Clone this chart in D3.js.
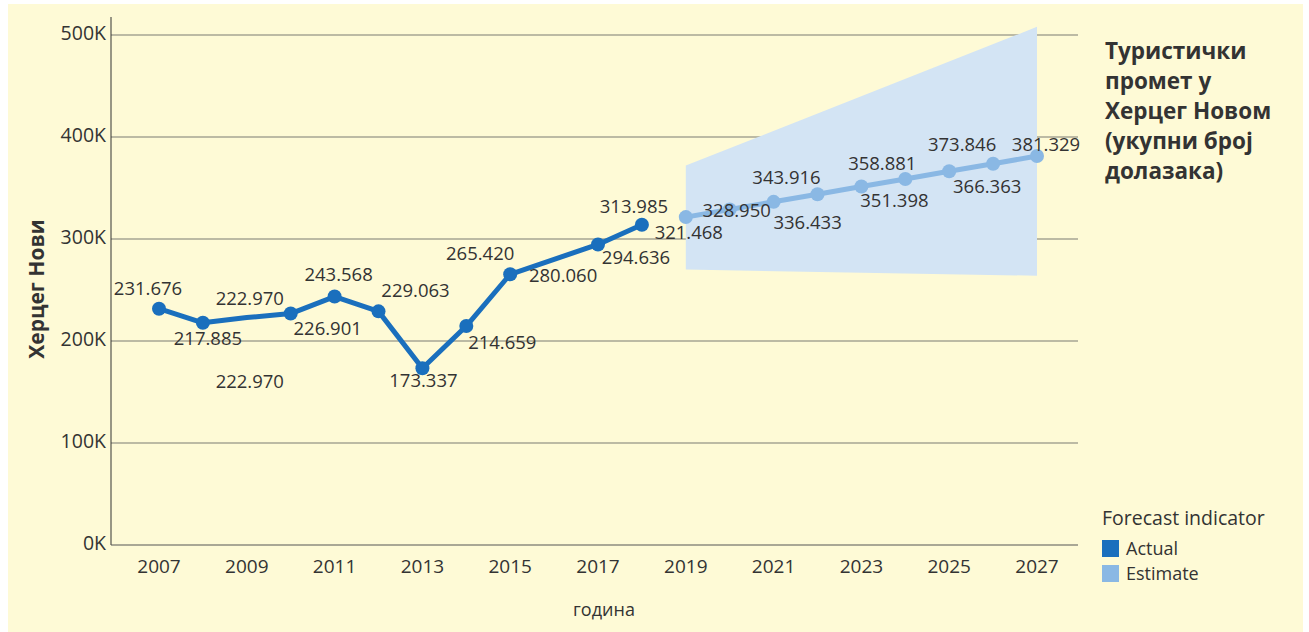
<!DOCTYPE html>
<html>
<head>
<meta charset="utf-8">
<script src="https://cdn.jsdelivr.net/npm/d3@7"></script>
<style>
  body { margin: 0; background: #fff; }
  text { font-family: "Open Sans", "DejaVu Sans", sans-serif; fill: #333; }
</style>
</head>
<body>
<svg id="chart" width="1309" height="632"></svg>
<script>
// actual arrivals
const actualYears = [2007, 2008, 2009, 2010, 2011, 2012, 2013, 2014, 2015, 2016, 2017, 2018];
const actualValues = [231676, 217885, 222970, 226901, 243568, 229063, 173337, 214659, 265420, 280060, 294636, 313985];
const noMarkerYears = [2009, 2016];

// forecast
const estimateYears = [2019, 2020, 2021, 2022, 2023, 2024, 2025, 2026, 2027];
const estimateValues = [321468, 328950, 336433, 343916, 351398, 358881, 366363, 373846, 381329];

// confidence band, read at both ends
const bandYears = [2019, 2027];
const bandUpper = [372000, 508000];
const bandLower = [270000, 264000];

const yTicks = [0, 100000, 200000, 300000, 400000, 500000];
const xTicks = [2007, 2009, 2011, 2013, 2015, 2017, 2019, 2021, 2023, 2025, 2027];

const titleLines = ["Туристички", "промет у", "Херцег Новом", "(укупни број", "долазака)"];
const legendItems = ["Actual", "Estimate"];

// label placement relative to the point (px)
const actualLabelOffsets = [[-11, -14], [5, 22], [3, -13], [37, 21], [4, -16], [37, -14], [1, 19], [36, 23], [-30, -14], [9, 23], [38, 20], [-8, -12]];
const estimateLabelOffsets = [[3, 22], [7, 8], [34, 27], [-31, -10], [33, 20], [-23, -9], [38, 22], [-31, -13], [9, -5]];

const colActual = "#1a6fbd", colEstimate = "#8ab8e4", colBand = "#d3e4f4";

const svg = d3.select("#chart");
svg.append("rect").attr("x", 8).attr("y", 4).attr("width", 1295).attr("height", 628).attr("fill", "#fefad6");

const x = d3.scaleLinear().domain([2007, 2027]).range([159, 1037]);
const y = d3.scaleLinear().domain([0, 500000]).range([545, 35]);
const fmt = v => d3.format(",.0f")(v).replace(/,/g, ".");

// gridlines
svg.append("g").selectAll("line").data(yTicks.slice(1)).join("line")
  .attr("x1", 111).attr("x2", 1078)
  .attr("y1", d => y(d)).attr("y2", d => y(d))
  .attr("stroke", "#7a7a72").attr("stroke-width", 1);

// band
const area = d3.area().x(d => x(d[0])).y0(d => y(d[2])).y1(d => y(d[1]));
svg.append("path")
  .datum(bandYears.map((yr, i) => [yr, bandUpper[i], bandLower[i]]))
  .attr("d", area).attr("fill", colBand);

// axes
svg.append("line").attr("x1", 111).attr("x2", 111).attr("y1", 17).attr("y2", 545).attr("stroke", "#333");
svg.append("line").attr("x1", 111).attr("x2", 1078).attr("y1", 545).attr("y2", 545).attr("stroke", "#555");

svg.append("g").selectAll("text").data(yTicks).join("text")
  .attr("x", 106).attr("y", d => y(d) + 5)
  .attr("text-anchor", "end").attr("font-size", 19.5)
  .text(d => (d / 1000) + "K");

svg.append("g").selectAll("text").data(xTicks).join("text")
  .attr("x", d => x(d)).attr("y", 573)
  .attr("text-anchor", "middle").attr("font-size", 19)
  .text(d => d);

svg.append("text").attr("x", 604).attr("y", 616).attr("text-anchor", "middle")
  .attr("font-size", 18).text("година");

svg.append("text").attr("transform", "translate(44,289) rotate(-90)")
  .attr("text-anchor", "middle").attr("font-size", 21).attr("font-weight", "bold")
  .attr("fill", "#222").text("Херцег Нови");

// lines
const line = d3.line().x(d => x(d[0])).y(d => y(d[1]));
const actual = actualYears.map((yr, i) => [yr, actualValues[i]]);
const estimate = estimateYears.map((yr, i) => [yr, estimateValues[i]]);

svg.append("path").datum(actual).attr("d", line).attr("fill", "none")
  .attr("stroke", colActual).attr("stroke-width", 5).attr("stroke-linejoin", "round");
svg.append("path").datum(estimate).attr("d", line).attr("fill", "none")
  .attr("stroke", colEstimate).attr("stroke-width", 5).attr("stroke-linejoin", "round");

svg.append("g").selectAll("circle").data(actual.filter(d => !noMarkerYears.includes(d[0]))).join("circle")
  .attr("cx", d => x(d[0])).attr("cy", d => y(d[1])).attr("r", 7).attr("fill", colActual);
svg.append("g").selectAll("circle").data(estimate).join("circle")
  .attr("cx", d => x(d[0])).attr("cy", d => y(d[1])).attr("r", 7).attr("fill", colEstimate);

// data labels
const labelG = svg.append("g").attr("font-size", 18.5).attr("text-anchor", "middle");
actual.forEach((d, i) => {
  labelG.append("text").attr("x", x(d[0]) + actualLabelOffsets[i][0])
    .attr("y", y(d[1]) + actualLabelOffsets[i][1]).text(fmt(d[1]));
});
// stray duplicate label under 2009
labelG.append("text").attr("x", x(2009) + 3).attr("y", y(actualValues[2]) + 70).text(fmt(actualValues[2]));
estimate.forEach((d, i) => {
  labelG.append("text").attr("x", x(d[0]) + estimateLabelOffsets[i][0])
    .attr("y", y(d[1]) + estimateLabelOffsets[i][1]).text(fmt(d[1]));
});

// title
svg.append("text").attr("x", 1105).attr("y", 59).attr("font-size", 22.5).attr("font-weight", "bold")
  .attr("fill", "#222")
  .selectAll("tspan").data(titleLines).join("tspan")
  .attr("x", 1105).attr("dy", (d, i) => i ? 30 : 0).text(d => d);

// legend
svg.append("text").attr("x", 1102).attr("y", 525).attr("font-size", 19.5).attr("fill", "#444").text("Forecast indicator");
const lg = svg.append("g").selectAll("g").data(legendItems).join("g")
  .attr("transform", (d, i) => `translate(1102,${540 + i * 25})`);
lg.append("rect").attr("width", 17).attr("height", 17).attr("fill", (d, i) => i ? colEstimate : colActual);
lg.append("text").attr("x", 24).attr("y", 15).attr("font-size", 18).text(d => d);
</script>
</body>
</html>
